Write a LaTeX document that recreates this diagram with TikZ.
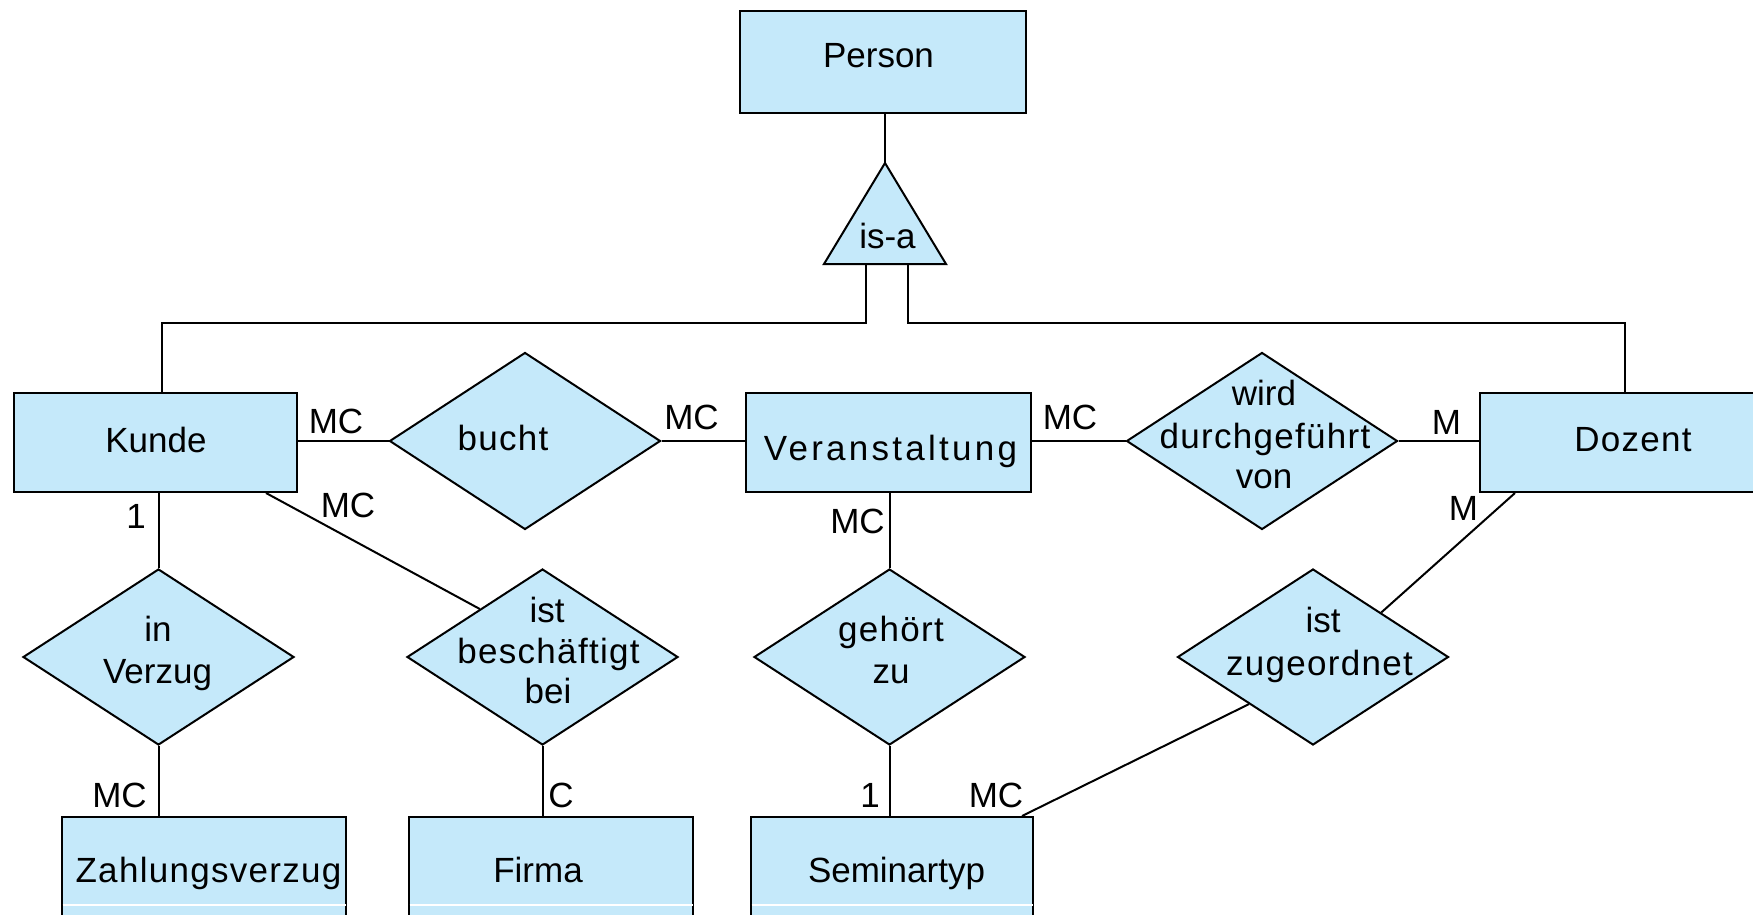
\documentclass[tikz,border=0pt]{standalone}
\usepackage{fontspec}
\setmainfont{Liberation Sans}
\newfontfamily\spfont{Liberation Sans}[LetterSpace=3.7]
\newfontfamily\wdfont{Liberation Sans}[LetterSpace=9.3]
\usetikzlibrary{shapes.geometric,calc}
\definecolor{erblue}{RGB}{197,233,250}
\tikzset{
  ent/.style={draw, line width=2pt, fill=erblue, rectangle, inner sep=0pt, minimum width=#1, minimum height=99},
  rel/.style={draw, line width=2pt, fill=erblue, diamond, inner sep=0pt, minimum width=271, minimum height=177},
  txt/.style={anchor=base, inner sep=0pt, font=\fontsize{35}{42}\selectfont},
  stxt/.style={txt, font=\fontsize{35}{42}\selectfont\spfont},
  wtxt/.style={txt, font=\fontsize{35}{42}\selectfont\wdfont},
  conn/.style={line width=2pt, black},
  gapline/.style={line width=1.5pt, white}
}
\begin{document}
\begin{tikzpicture}[x=1pt,y=-1pt]
\useasboundingbox (0,0) rectangle (1753,915);
\clip (0,0) rectangle (1753,915);

% entities
\node[ent=286, minimum height=102] (Person) at (883,62) {};
\node[ent=283] (Kunde) at (155.5,442.5) {};
\node[ent=285] (Veran) at (888.5,442.5) {};
\node[ent=308] (Dozent) at (1634,442.5) {};
\node[ent=284, minimum height=200] (Zahl) at (204,917) {};
\node[ent=284, minimum height=200] (Firma) at (551,917) {};
\node[ent=282, minimum height=200] (Semi) at (892,917) {};
\draw[gapline] ($(Zahl.north west)+(1.5,89)$) -- ($(Zahl.north east)+(-1.5,89)$);
\draw[gapline] ($(Firma.north west)+(1.5,89)$) -- ($(Firma.north east)+(-1.5,89)$);
\draw[gapline] ($(Semi.north west)+(1.5,89)$) -- ($(Semi.north east)+(-1.5,89)$);

% relationships
\node[rel] (bucht) at (525,441) {};
\node[rel] (wdv) at (1262,441) {};
\node[rel, minimum height=176] (verzug) at (158.5,657) {};
\node[rel, minimum height=176] (besch) at (542.5,657) {};
\node[rel, minimum height=176] (gehoert) at (889.5,657) {};
\node[rel, minimum height=176] (zuge) at (1313,657) {};

% is-a triangle
\coordinate (isaTop) at (885,163);
\coordinate (isaBL) at (824,264);
\coordinate (isaBR) at (946,264);
\coordinate (isaL) at (866,264);
\coordinate (isaR) at (908,264);
\coordinate (kup) at (162,323);
\coordinate (dup) at (1625,323);
\draw[conn, fill=erblue, line join=miter] (isaTop) -- (isaBR) -- (isaBL) -- cycle;
\draw[conn] (Person.south -| isaTop) -- (isaTop);
\draw[conn] (isaL) |- (kup) -- (kup |- Kunde.north);
\draw[conn] (isaR) |- (dup) -- (dup |- Dozent.north);

% horizontal connectors
\draw[conn] (Kunde.east |- bucht.west) -- (bucht.west);
\draw[conn] (bucht.east) -- (bucht.east -| Veran.west);
\draw[conn] (Veran.east |- wdv.west) -- (wdv.west);
\draw[conn] (wdv.east) -- (wdv.east -| Dozent.west);

% vertical connectors
\draw[conn] (verzug.north) -- (verzug.north |- Kunde.south);
\draw[conn] (verzug.south) -- (verzug.south |- Zahl.north);
\draw[conn] (besch.south) -- (besch.south |- Firma.north);
\draw[conn] (gehoert.north) -- (gehoert.north |- Veran.south);
\draw[conn] (gehoert.south) -- (gehoert.south |- Semi.north);

% diagonal connectors
\draw[conn] ($(Kunde.south east)+(-32,0)$) -- ($(besch.west)!0.54!(besch.north)$);
\draw[conn] ($(Dozent.south west)+(36,0)$) -- ($(zuge.north)!0.5!(zuge.east)$);
\draw[conn] ($(zuge.west)!0.53!(zuge.south)$) -- ($(Semi.north east)+(-12,0)$);

% texts
\node[txt] (tPerson) at (878.5,68) {Person};
\node[txt] (tisa) at (887.5,248) {is-a};
\node[txt] (tKunde) at (156,452) {Kunde};
\node[stxt] (tbucht) at (503,450) {bucht};
\node[wtxt] (tVeran) at (890.5,460) {Veranstaltung};
\node[txt] (twdv1) at (1264,405) {wird};
\node[stxt] (twdv2) at (1265,448) {durchgeführt};
\node[txt] (twdv3) at (1264,488) {von};
\node[stxt] (tDozent) at (1633,451) {Dozent};
\node[txt] (tverz1) at (158,641) {in};
\node[txt] (tverz2) at (157.5,683) {Verzug};
\node[txt] (tbesch1) at (547,622) {ist};
\node[stxt] (tbesch2) at (548.5,663) {beschäftigt};
\node[txt] (tbesch3) at (548,703) {bei};
\node[stxt] (tgeh1) at (891,641) {gehört};
\node[txt] (tgeh2) at (891,683) {zu};
\node[txt] (tzuge1) at (1323,632) {ist};
\node[stxt] (tzuge2) at (1319.5,675) {zugeordnet};
\node[stxt] (tZahl) at (208.5,882) {Zahlungsverzug};
\node[txt] (tFirma) at (538,882) {Firma};
\node[txt] (tSemi) at (896.5,882) {Seminartyp};

% cardinalities
\node[txt] (c1) at (336,433) {MC};
\node[txt] (c2) at (691.5,429) {MC};
\node[txt] (c3) at (1070,429) {MC};
\node[txt] (c4) at (1446.5,434) {M};
\node[txt] (c5) at (136,528) {1};
\node[txt] (c6) at (348,517) {MC};
\node[txt] (c7) at (857.5,533) {MC};
\node[txt] (c8) at (1463.5,520) {M};
\node[txt] (c9) at (119.5,807) {MC};
\node[txt] (c10) at (561,807) {C};
\node[txt] (c11) at (870,807) {1};
\node[txt] (c12) at (996,807) {MC};
\end{tikzpicture}
\end{document}
